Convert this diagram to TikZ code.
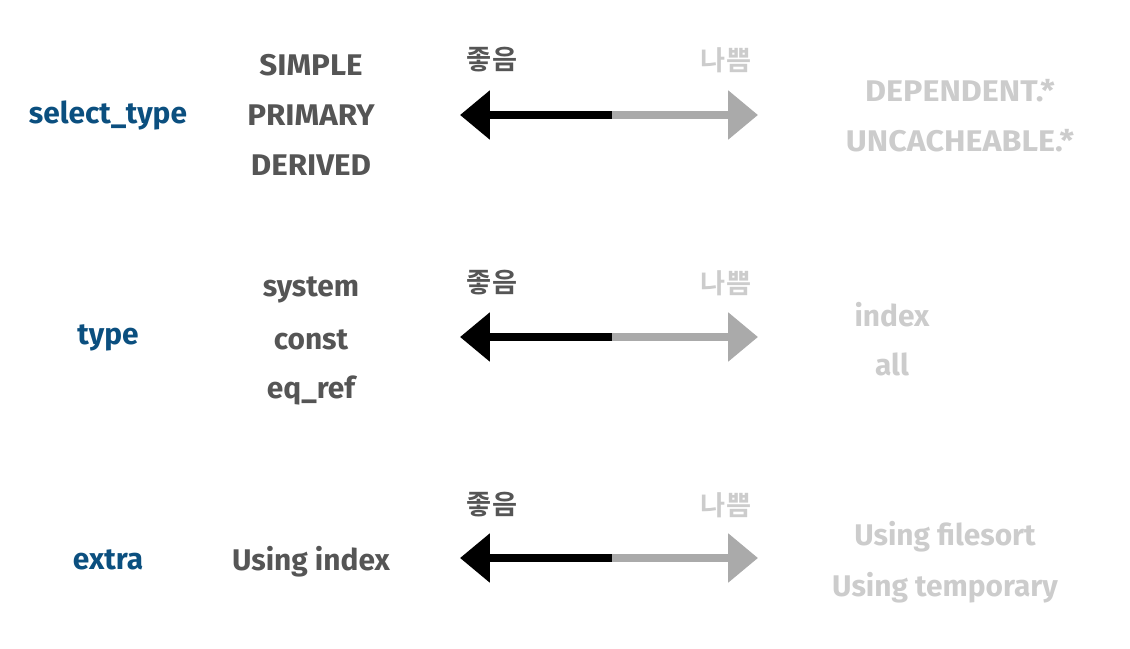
\documentclass[tikz,border=0pt]{standalone}
\usepackage{fontspec}
\setmainfont{Fira Sans Bold}
\newfontfamily\kofont{Noto Sans CJK KR Bold}
\usetikzlibrary{arrows.meta,positioning}
\definecolor{keyblue}{HTML}{0B4F7F}
\definecolor{good}{HTML}{555555}
\definecolor{bad}{HTML}{CCCCCC}
\definecolor{badline}{HTML}{AAAAAA}

\begin{document}
\begin{tikzpicture}[x=0.02cm,y=-0.02cm,
  column/.style={font=\fontsize{17}{20}\selectfont,text=keyblue},
  goodval/.style={font=\fontsize{17}{20}\selectfont,text=good},
  badval/.style={font=\fontsize{17}{20}\selectfont,text=bad},
  goodtag/.style={font=\kofont\fontsize{15.5}{18}\selectfont,text=good},
  badtag/.style={font=\kofont\fontsize{15.5}{18}\selectfont,text=bad},
  goodhalf/.style={line width=5pt,black,{Triangle[length=17pt,width=27pt]}-},
  badhalf/.style={line width=5pt,badline,-{Triangle[length=17pt,width=27pt]}},
]
  \useasboundingbox (0,0) rectangle (1130,649);

  % select_type
  \node[column] (selecttype) at (108,115) {select\_type};
  \node[goodval,xscale=1.05] (simple) at (311,65) {SIMPLE};
  \node[goodval,xscale=1.05] (primary) at (311,115) {PRIMARY};
  \node[goodval,xscale=1.05] (derived) at (311,165) {DERIVED};
  \node[goodtag] (good1) at (492,60) {좋음};
  \node[badtag] (bad1) at (726,60) {나쁨};
  \coordinate (l1) at (460,115);
  \coordinate (m1) at (612,115);
  \coordinate (r1) at (758,115);
  \draw[goodhalf] (l1) -- (m1);
  \draw[badhalf] (m1) -- (r1);
  \node[badval,xscale=1.08] (dependent) at (960,91) {DEPENDENT.*};
  \node[badval,xscale=1.08] (uncacheable) at (960,141) {UNCACHEABLE.*};

  % type
  \node[column] (type) at (108,338) {type};
  \node[goodval] (system) at (311,290) {system};
  \node[goodval] (const) at (311,340) {const};
  \node[goodval] (eqref) at (311,390) {eq\_ref};
  \node[goodtag] (good2) at (492,283) {좋음};
  \node[badtag] (bad2) at (726,283) {나쁨};
  \coordinate (l2) at (460,337);
  \coordinate (m2) at (612,337);
  \coordinate (r2) at (758,337);
  \draw[goodhalf] (l2) -- (m2);
  \draw[badhalf] (m2) -- (r2);
  \node[badval] (index) at (892,315) {index};
  \node[badval] (all) at (892,364) {all};

  % extra
  \node[column] (extra) at (108,560) {extra};
  \node[goodval] (usingindex) at (311,562) {Using index};
  \node[goodtag] (good3) at (492,505) {좋음};
  \node[badtag] (bad3) at (726,505) {나쁨};
  \coordinate (l3) at (460,558);
  \coordinate (m3) at (612,558);
  \coordinate (r3) at (758,558);
  \draw[goodhalf] (l3) -- (m3);
  \draw[badhalf] (m3) -- (r3);
  \node[badval] (filesort) at (945,537) {Using filesort};
  \node[badval] (temporary) at (945,588) {Using temporary};
\end{tikzpicture}
\end{document}
